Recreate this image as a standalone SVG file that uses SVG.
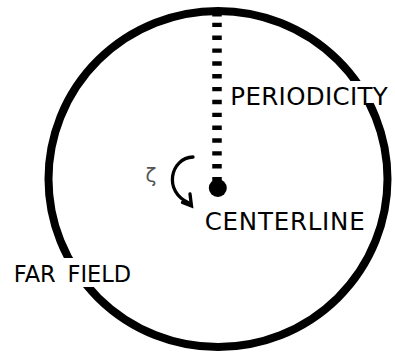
<svg xmlns="http://www.w3.org/2000/svg" width="395" height="353" viewBox="0 0 395 353">
<style>
.lbl{font-family:"DejaVu Sans","Liberation Sans",sans-serif;fill:#000}
.bg{fill:#fff}
.thick{fill:none;stroke:#000;stroke-width:8}
.arrow{fill:none;stroke:#000;stroke-width:3.3;stroke-linecap:round;stroke-linejoin:miter}
</style>
<rect x="0" y="0" width="395" height="353" fill="#fff"/>
<g id="far-field">
<ellipse class="thick" cx="218" cy="179" rx="169.5" ry="168"/>
</g>
<g id="connectors">
<path d="M217,11 V16.5" stroke="#000" stroke-width="9.5" fill="none"/>
<path d="M217,22.7 V181" stroke="#000" stroke-width="9.5" fill="none" stroke-dasharray="4.4 8.45"/>
</g>
<g id="centerline">
<circle cx="217.8" cy="188" r="9" fill="#000"/>
</g>
<g id="rotation">
<path class="arrow" d="M193,157 C170,158 163,192 189,203"/>
<path class="arrow" d="M182.5,202.5 L191.5,206 L190,194"/>
<text class="lbl" x="145.5" y="182" font-size="20" style="fill:#555">ζ</text>
</g>
<g id="periodicity-label">
<rect class="bg" x="226" y="81" width="166" height="22"/>
<text class="lbl" x="230.3" y="105" font-size="24.5" textLength="157.5">PERIODICITY</text>
</g>
<g id="centerline-label">
<text class="lbl" x="204.7" y="229.5" font-size="24.5" textLength="160">CENTERLINE</text>
</g>
<g id="far-field-label">
<rect class="bg" x="10" y="258" width="128" height="29"/>
<text class="lbl" x="13.8" y="281.7" font-size="22.5">FAR<tspan x="67.5">FIELD</tspan></text>
</g>
</svg>
